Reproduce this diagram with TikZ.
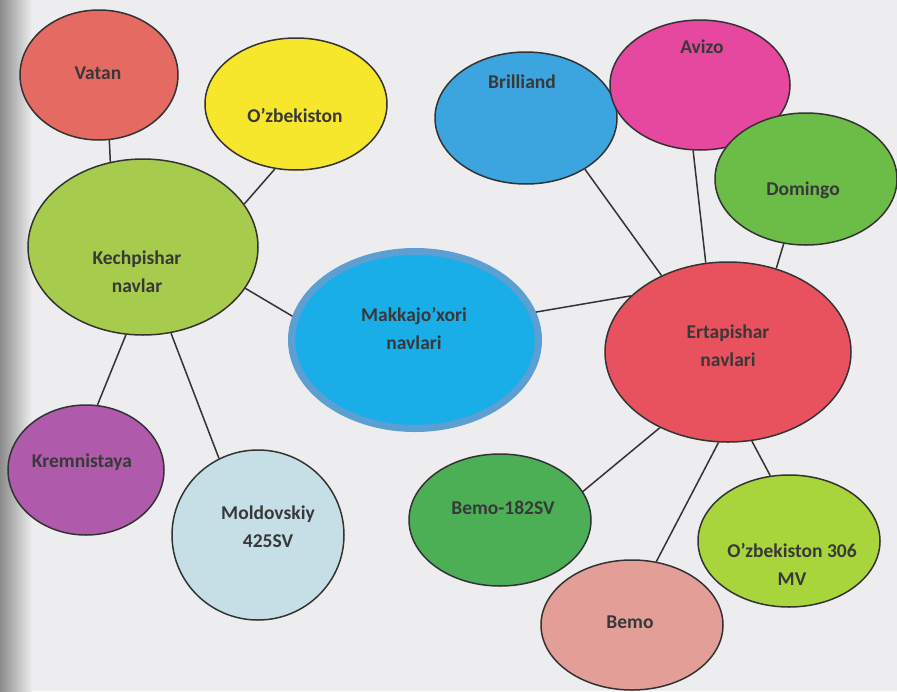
\documentclass[tikz,border=0pt]{standalone}
\usepackage{fontspec}
\setmainfont{Carlito}
\usetikzlibrary{shapes.geometric}
\definecolor{bgc}{HTML}{EDEDEF}
\definecolor{edge}{HTML}{333333}
\definecolor{txt}{HTML}{383838}
\definecolor{cVatan}{HTML}{E56A62}
\definecolor{cUzb}{HTML}{F6E62C}
\definecolor{cKech}{HTML}{A7CB4C}
\definecolor{cMakka}{HTML}{19AEE8}
\definecolor{cMakkaB}{HTML}{5C9FD2}
\definecolor{cBril}{HTML}{3CA4DF}
\definecolor{cAvizo}{HTML}{E6479F}
\definecolor{cDom}{HTML}{6CBD48}
\definecolor{cErta}{HTML}{E8525F}
\definecolor{cKrem}{HTML}{B05AAC}
\definecolor{cMold}{HTML}{C6DFE7}
\definecolor{cB182}{HTML}{4DAF55}
\definecolor{cBemo}{HTML}{E29E97}
\definecolor{cUz306}{HTML}{A8D53C}
\tikzset{
  blob/.style={ellipse, draw=edge, line width=1.5pt, inner sep=0pt},
  lbl/.style={text=txt, font=\fontsize{19.5}{28}\selectfont\bfseries, align=center, inner sep=0pt},
  link/.style={draw=edge, line width=1.5pt}
}
\begin{document}
\begin{tikzpicture}[x=1pt,y=-1pt]
\fill[bgc] (0,0) rectangle (897,691);
\shade[left color=black!45, right color=bgc] (0,0) rectangle (32,691);
\useasboundingbox (0,0) rectangle (897,691);

% ellipses
\node[blob, fill=cVatan, minimum width=158pt, minimum height=130pt] (vatan) at (99,75) {};
\node[blob, fill=cUzb, minimum width=182pt, minimum height=132pt] (uzb) at (296,104) {};
\node[blob, fill=cKech, minimum width=230pt, minimum height=176pt] (kech) at (143,247) {};
\node[ellipse, fill=cMakka, draw=cMakkaB, line width=7pt, inner sep=0pt, minimum width=247pt, minimum height=177pt] (makka) at (415,340) {};
\node[blob, fill=cBril, minimum width=182pt, minimum height=132pt] (bril) at (526,118) {};
\node[blob, fill=cAvizo, minimum width=180pt, minimum height=130pt] (avizo) at (700,85) {};
\node[blob, fill=cDom, minimum width=182pt, minimum height=132pt] (dom) at (806,179) {};
\node[blob, fill=cErta, minimum width=246pt, minimum height=180pt] (erta) at (728,352) {};
\node[blob, fill=cKrem, minimum width=156pt, minimum height=130pt] (krem) at (86,470) {};
\node[blob, fill=cMold, minimum width=172pt, minimum height=170pt] (mold) at (258,535) {};
\node[blob, fill=cB182, minimum width=182pt, minimum height=132pt] (b182) at (500,520) {};
\node[blob, fill=cBemo, minimum width=182pt, minimum height=130pt] (bemo) at (632,625) {};
\node[blob, fill=cUz306, minimum width=182pt, minimum height=132pt] (uz306) at (789,541) {};

% labels
\node[lbl] (tvatan) at (98,73) {Vatan};
\node[lbl] (tuzb) at (295,115) {O’zbekiston};
\node[lbl] (tkech) at (137,272) {Kechpishar\\navlar};
\node[lbl] (tmakka) at (414,328) {Makkajo’xori\\navlari};
\node[lbl] (tbril) at (522,82) {Brilliand};
\node[lbl] (tavizo) at (702,47) {Avizo};
\node[lbl] (tdom) at (803,190) {Domingo};
\node[lbl] (terta) at (728,346) {Ertapishar\\navlari};
\node[lbl] (tkrem) at (82,462) {Kremnistaya};
\node[lbl] (tmold) at (268,527) {Moldovskiy\\425SV};
\node[lbl] (tb182) at (503,508) {Bemo-182SV};
\node[lbl] (tbemo) at (630,622) {Bemo};
\node[lbl] (tuz306) at (792,564) {O’zbekiston 306\\MV};

% connectors
\draw[link] (vatan.-81) -- (kech.111);
\draw[link] (uzb.-108) -- (kech.23);
\draw[link] (kech.-22) -- (makka.169);
\draw[link] (kech.-101) -- (krem.80);
\draw[link] (kech.-72) -- (mold.117);
\draw[link] (makka.13) -- (erta.150);
\draw[link] (bril.-41) -- (erta.131);
\draw[link] (avizo.-96) -- (erta.104);
\draw[link] (dom.-109) -- (erta.60);
\draw[link] (erta.-132) -- (b182.19);
\draw[link] (erta.-96) -- (bemo.69);
\draw[link] (erta.-75) -- (uz306.106);
\end{tikzpicture}
\end{document}
